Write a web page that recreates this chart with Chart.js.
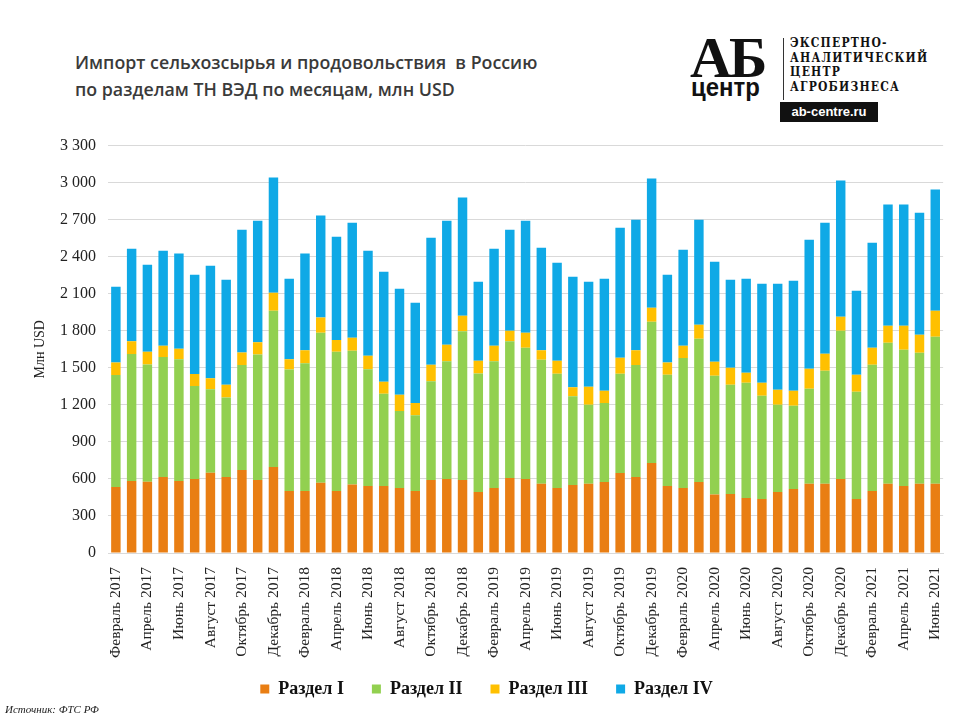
<!DOCTYPE html>
<html>
<head>
<meta charset="utf-8">
<script src="https://cdn.jsdelivr.net/npm/chart.js@4.4.0/dist/chart.umd.min.js"></script>
<style>
  html, body { margin: 0; padding: 0; background: #ffffff; }
  #page { position: relative; width: 960px; height: 720px; overflow: hidden; background: #fff; }
  #title { position: absolute; left: 75px; top: 49px; font-family: "Open Sans", sans-serif; font-weight: 600; font-size: 17.8px; line-height: 27px; color: #3a3a3a; white-space: pre; }
  #chartBox { position: absolute; left: 0; top: 124px; width: 960px; height: 596px; }
  #source { position: absolute; left: 5px; top: 703px; font-family: "Liberation Serif", serif; font-style: italic; font-size: 11px; color: #222; }
  #logo { position: absolute; left: 688px; top: 34px; width: 250px; height: 90px; }
  #logoAB { position: absolute; left: 2px; top: -10px; font-family: "Liberation Serif", serif; font-weight: bold; font-size: 58px; color: #111; letter-spacing: -3px; }
  #logoCentr { position: absolute; left: 3px; top: 38px; font-family: "Liberation Sans Narrow", "Liberation Sans", sans-serif; font-weight: bold; font-size: 26px; color: #111; transform: scaleX(0.92); transform-origin: left; }
  #logoLine { position: absolute; left: 95px; top: 4px; width: 1px; height: 62px; background: #333; }
  #logoText { position: absolute; left: 102px; top: 2px; font-family: "DejaVu Serif Condensed", "Liberation Serif", serif; font-weight: bold; font-size: 12px; line-height: 14.5px; color: #111; letter-spacing: 1.2px; }
  #logoUrl { position: absolute; left: 92px; top: 68px; width: 98px; height: 20px; background: #111; color: #fff; font-family: "Liberation Sans Narrow", "Liberation Sans", sans-serif; font-weight: bold; font-size: 13px; line-height: 20px; text-align: center; }
</style>
</head>
<body>
<div id="page">
  <div id="title">Импорт сельхозсырья и продовольствия  в Россию
по разделам ТН ВЭД по месяцам, млн USD</div>
  <div id="logo">
    <div id="logoAB">АБ</div>
    <div id="logoCentr">центр</div>
    <div id="logoLine"></div>
    <div id="logoText">ЭКСПЕРТНО-<br>АНАЛИТИЧЕСКИЙ<br>ЦЕНТР<br>АГРОБИЗНЕСА</div>
    <div id="logoUrl">ab-centre.ru</div>
  </div>
  <div id="chartBox"><canvas id="c"></canvas></div>
  <div id="source">Источник: ФТС РФ</div>
</div>
<script>
const months = [
  "Февраль 2017","Март 2017","Апрель 2017","Май 2017","Июнь 2017","Июль 2017","Август 2017","Сентябрь 2017","Октябрь 2017","Ноябрь 2017","Декабрь 2017",
  "Январь 2018","Февраль 2018","Март 2018","Апрель 2018","Май 2018","Июнь 2018","Июль 2018","Август 2018","Сентябрь 2018","Октябрь 2018","Ноябрь 2018","Декабрь 2018",
  "Январь 2019","Февраль 2019","Март 2019","Апрель 2019","Май 2019","Июнь 2019","Июль 2019","Август 2019","Сентябрь 2019","Октябрь 2019","Ноябрь 2019","Декабрь 2019",
  "Январь 2020","Февраль 2020","Март 2020","Апрель 2020","Май 2020","Июнь 2020","Июль 2020","Август 2020","Сентябрь 2020","Октябрь 2020","Ноябрь 2020","Декабрь 2020",
  "Январь 2021","Февраль 2021","Март 2021","Апрель 2021","Май 2021","Июнь 2021"
];
const section1 = [535,584,578,616,584,600,651,616,673,592,697, 503,503,570,503,554,543,543,527,503,592,600,592, 495,527,608,600,560,527,551,560,576,649,616,730, 543,527,576,473,478,446,438,495,519,560,560,600, 438,503,560,543,560,560];
const section2 = [906,1027,949,971,986,752,676,644,849,1016,1265, 984,1035,1214,1127,1084,946,746,624,613,800,954,1205, 959,1027,1108,1062,1005,925,719,640,640,803,906,1143, 900,1052,1159,962,884,933,835,705,673,770,916,1200, 868,1022,1143,1103,1062,1192];
const section3 = [102,105,103,92,84,97,89,102,103,100,146, 83,105,124,95,105,108,98,130,100,132,133,125, 103,125,84,122,78,105,73,146,98,129,121,114, 100,100,114,114,138,81,106,122,122,162,138,114, 137,137,138,195,146,210];
const section4 = [614,749,705,770,771,805,911,852,994,984,933, 652,782,825,837,933,852,892,860,811,1030,1005,957, 641,786,819,908,830,795,895,852,908,1054,1057,1046, 711,778,851,811,714,762,802,859,892,1046,1062,1103, 682,852,981,981,989,982];
const seriesNames = ["Раздел I","Раздел II","Раздел III","Раздел IV"];
const yTicks = [0,300,600,900,1200,1500,1800,2100,2400,2700,3000,3300];

const colors = ["#E97E13","#92D050","#FFC000","#0FA9E6"];
const serif = "'Liberation Serif', 'Times New Roman', serif";

const liftLegend = {
  id: 'liftLegend',
  afterLayout(chart) {
    const lg = chart.legend;
    if (lg) { lg.top -= 11; lg.bottom -= 11; }
  }
};

new Chart(document.getElementById('c'), {
  type: 'bar',
  data: {
    labels: months,
    datasets: [section1, section2, section3, section4].map((d, i) => ({
      label: seriesNames[i],
      data: d,
      backgroundColor: colors[i],
      borderWidth: 0,
      barPercentage: 0.6,
      categoryPercentage: 1.0
    }))
  },
  plugins: [liftLegend],
  options: {
    responsive: true,
    maintainAspectRatio: false,
    animation: false,
    layout: { padding: { left: 28, right: 15, top: 8, bottom: 1 } },
    plugins: {
      title: { display: false },
      tooltip: { enabled: false },
      legend: {
        position: 'bottom',
        labels: {
          font: { family: serif, size: 18, weight: 'bold' },
          color: '#111',
          boxWidth: 9,
          boxHeight: 9,
          padding: 28
        }
      }
    },
    scales: {
      x: {
        stacked: true,
        grid: { display: false },
        border: { display: true, color: '#d9d9d9' },
        afterFit: (s) => { s.height = 110; },
        ticks: {
          autoSkip: false,
          minRotation: 90,
          maxRotation: 90,
          padding: 6,
          color: '#222',
          font: { family: serif, size: 15.5 },
          callback: function(v, i) { return i % 2 === 0 ? months[i] : ''; }
        }
      },
      y: {
        stacked: true,
        min: 0,
        max: 3300,
        afterBuildTicks: (s) => { s.ticks = yTicks.map(v => ({ value: v })); },
        afterFit: (s) => { s.width = 80; },
        grid: { color: '#d9d9d9', drawTicks: false },
        border: { display: false },
        title: { display: true, text: 'Млн USD', font: { family: serif, size: 14 }, color: '#222', padding: { top: 4, bottom: 0 } },
        ticks: {
          padding: 12,
          color: '#222',
          font: { family: serif, size: 16 },
          callback: (v) => String(v).replace(/\B(?=(\d{3})+(?!\d))/g, ' ')
        }
      }
    }
  }
});
</script>
</body>
</html>
